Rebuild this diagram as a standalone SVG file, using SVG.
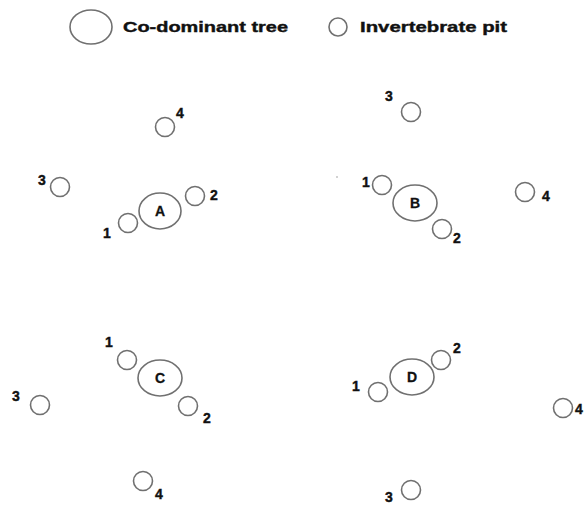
<svg xmlns="http://www.w3.org/2000/svg" width="586" height="506" viewBox="0 0 586 506">
<style>
.tree{fill:#fff;stroke:#707070;stroke-width:1.6}
.pit{fill:#fff;stroke:#707070;stroke-width:1.6}
.lbl{font-family:"Liberation Sans",Arial,sans-serif;font-weight:bold;font-size:14px;fill:#111;stroke:#111;stroke-width:0.4}
.tl{font-family:"Liberation Sans",Arial,sans-serif;font-weight:bold;font-size:14px;fill:#111;stroke:#111;stroke-width:0.3;text-anchor:middle}
.leg{font-family:"Liberation Sans",Arial,sans-serif;font-weight:bold;font-size:15px;fill:#111;stroke:#111;stroke-width:0.4}
</style>
<rect width="586" height="506" fill="#fff"/>
<g id="legend">
<ellipse class="tree" cx="91" cy="27" rx="21" ry="17"/>
<text class="leg" x="123" y="32" textLength="165" lengthAdjust="spacingAndGlyphs">Co-dominant tree</text>
<circle class="pit" cx="338" cy="27" r="9"/>
<text class="leg" x="360" y="32" textLength="147" lengthAdjust="spacingAndGlyphs">Invertebrate pit</text>
</g>
<g id="connectors"></g>
<g id="clusterA">
<ellipse class="tree" cx="160" cy="211" rx="21" ry="18"/>
<text class="tl" x="160" y="216">A</text>
<circle class="pit" cx="128" cy="223" r="9.5"/><text class="lbl" x="103" y="238">1</text>
<circle class="pit" cx="195" cy="196" r="9.5"/><text class="lbl" x="210" y="200">2</text>
<circle class="pit" cx="60" cy="187" r="9.5"/><text class="lbl" x="38" y="185">3</text>
<circle class="pit" cx="165" cy="127" r="9.5"/><text class="lbl" x="176" y="118">4</text>
</g>
<g id="clusterB">
<ellipse class="tree" cx="415" cy="203" rx="22" ry="18"/>
<text class="tl" x="415" y="208">B</text>
<circle class="pit" cx="382" cy="185" r="9.5"/><text class="lbl" x="362" y="187">1</text>
<circle class="pit" cx="442" cy="229" r="9.5"/><text class="lbl" x="453" y="243">2</text>
<circle class="pit" cx="411" cy="112" r="9.5"/><text class="lbl" x="385" y="101">3</text>
<circle class="pit" cx="525" cy="192" r="9.5"/><text class="lbl" x="542" y="201">4</text>
<circle cx="337" cy="177" r="0.8" fill="#999"/>
</g>
<g id="clusterC">
<ellipse class="tree" cx="160" cy="378" rx="22" ry="18"/>
<text class="tl" x="160" y="383">C</text>
<circle class="pit" cx="127" cy="360" r="9.5"/><text class="lbl" x="105" y="347">1</text>
<circle class="pit" cx="188" cy="406" r="9.5"/><text class="lbl" x="203" y="423">2</text>
<circle class="pit" cx="40" cy="405" r="9.5"/><text class="lbl" x="12" y="401">3</text>
<circle class="pit" cx="143" cy="481" r="9.5"/><text class="lbl" x="155" y="499">4</text>
</g>
<g id="clusterD">
<ellipse class="tree" cx="412" cy="377" rx="22" ry="18"/>
<text class="tl" x="412" y="382">D</text>
<circle class="pit" cx="378" cy="392" r="9.5"/><text class="lbl" x="352" y="391">1</text>
<circle class="pit" cx="441" cy="360" r="9.5"/><text class="lbl" x="453" y="353">2</text>
<circle class="pit" cx="411" cy="490" r="9.5"/><text class="lbl" x="385" y="502">3</text>
<circle class="pit" cx="563" cy="408" r="9.5"/><text class="lbl" x="575" y="414">4</text>
</g>
</svg>
